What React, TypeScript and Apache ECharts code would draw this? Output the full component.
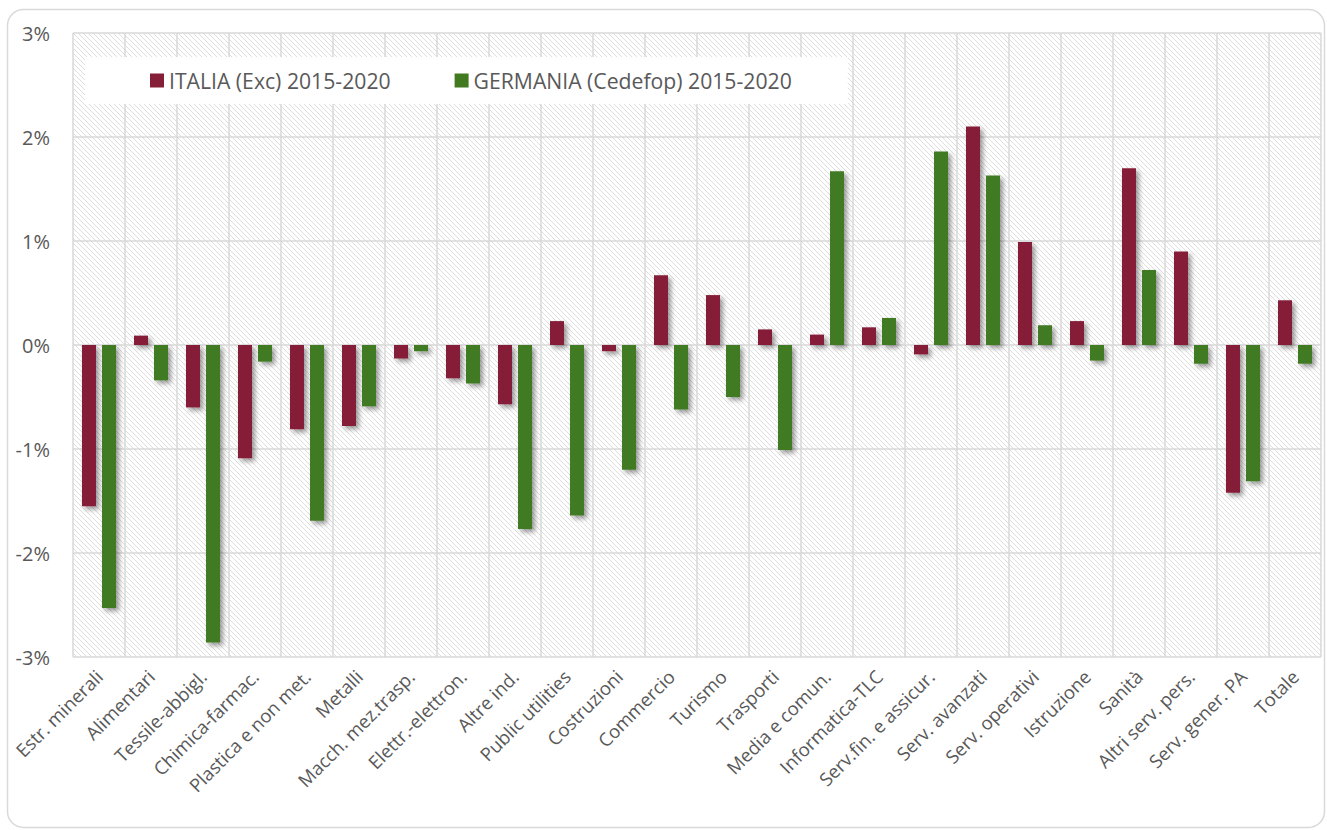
import React, { useEffect, useRef } from "react";
import * as echarts from "echarts";

const categories = [
  "Estr. minerali", "Alimentari", "Tessile-abbigl.", "Chimica-farmac.", "Plastica e non met.",
  "Metalli", "Macch. mez.trasp.", "Elettr.-elettron.", "Altre ind.", "Public utilities",
  "Costruzioni", "Commercio", "Turismo", "Trasporti", "Media e comun.", "Informatica-TLC",
  "Serv.fin. e assicur.", "Serv. avanzati", "Serv. operativi", "Istruzione", "Sanità",
  "Altri serv. pers.", "Serv. gener. PA", "Totale",
];
const italia = [
  -1.55, 0.09, -0.6, -1.09, -0.81, -0.78, -0.13, -0.32, -0.57, 0.23, -0.06, 0.67, 0.48, 0.15,
  0.1, 0.17, -0.09, 2.1, 0.99, 0.23, 1.7, 0.9, -1.42, 0.43,
];
const germania = [
  -2.53, -0.34, -2.86, -0.16, -1.69, -0.59, -0.06, -0.37, -1.77, -1.64, -1.2, -0.62, -0.5, -1.01,
  1.67, 0.26, 1.86, 1.63, 0.19, -0.15, 0.72, -0.18, -1.31, -0.18,
];
const seriesNames = ["ITALIA (Exc) 2015-2020", "GERMANIA (Cedefop) 2015-2020"];
const yTicks = { min: -3, max: 3, interval: 1 };

const FONT = "'Open Sans', 'Noto Sans', sans-serif";
const TEXT = "#595959";
const GRIDC = "#d9d9d9";

function makeHatch() {
  const s = 5;
  const c = document.createElement("canvas");
  c.width = s;
  c.height = s;
  const ctx = c.getContext("2d")!;
  ctx.fillStyle = "#ffffff";
  ctx.fillRect(0, 0, s, s);
  ctx.strokeStyle = "#dedede";
  ctx.lineWidth = 1;
  ctx.beginPath();
  ctx.moveTo(-1, -1);
  ctx.lineTo(s + 1, s + 1);
  ctx.moveTo(-1, s - 1);
  ctx.lineTo(1, s + 1);
  ctx.moveTo(s - 1, -1);
  ctx.lineTo(s + 1, 1);
  ctx.stroke();
  return c;
}

export default function App() {
  const ref = useRef<HTMLDivElement>(null);
  useEffect(() => {
    if (!ref.current) return;
    const chart = echarts.init(ref.current, null, { renderer: "svg" });
    const hatch = makeHatch();
    const shadow = {
      shadowColor: "rgba(0,0,0,0.4)",
      shadowBlur: 5,
      shadowOffsetX: 3,
      shadowOffsetY: 3,
    };
    chart.setOption({
      animation: false,
      backgroundColor: "#ffffff",
      graphic: [
        {
          type: "rect",
          left: 5,
          top: 7,
          z: -10,
          shape: { width: 1317, height: 818, r: 16 },
          style: { fill: "none", stroke: GRIDC, lineWidth: 1.5 },
        },
      ],
      legend: {
        left: 85,
        top: 57,
        backgroundColor: "#ffffff",
        padding: [13, 56, 13, 65],
        itemGap: 64,
        itemWidth: 14,
        itemHeight: 14,
        icon: "rect",
        textStyle: { fontFamily: FONT, fontSize: 21.2, color: TEXT },
        data: seriesNames,
      },
      grid: {
        left: 73,
        right: 6,
        top: 33,
        bottom: 173,
        show: true,
        borderWidth: 0,
        backgroundColor: { image: hatch, repeat: "repeat", imageWidth: 5, imageHeight: 5 },
      },
      xAxis: {
        type: "category",
        data: categories,
        axisLine: { show: false, onZero: false },
        axisTick: { show: false },
        splitLine: { show: true, interval: 0, lineStyle: { color: GRIDC, width: 1.5 } },
        axisLabel: {
          interval: 0,
          rotate: 45,
          margin: 16,
          fontFamily: FONT,
          fontSize: 18.5,
          color: TEXT,
        },
      },
      yAxis: {
        type: "value",
        min: yTicks.min,
        max: yTicks.max,
        interval: yTicks.interval,
        axisLine: { show: false },
        axisTick: { show: false },
        splitLine: { show: true, lineStyle: { color: GRIDC, width: 1.5 } },
        axisLabel: {
          formatter: "{value}%",
          margin: 23,
          fontFamily: FONT,
          fontSize: 20,
          color: TEXT,
        },
      },
      series: [
        {
          name: seriesNames[0],
          type: "bar",
          data: italia,
          barWidth: 14,
          barGap: "43%",
          itemStyle: { color: "#851F37", ...shadow },
        },
        {
          name: seriesNames[1],
          type: "bar",
          data: germania,
          barWidth: 14,
          itemStyle: { color: "#417A20", ...shadow },
        },
      ],
    });
    return () => chart.dispose();
  }, []);
  return (
    <div
      ref={ref}
      style={{ position: "fixed", left: 0, top: 0, width: 1327, height: 830 }}
    />
  );
}
